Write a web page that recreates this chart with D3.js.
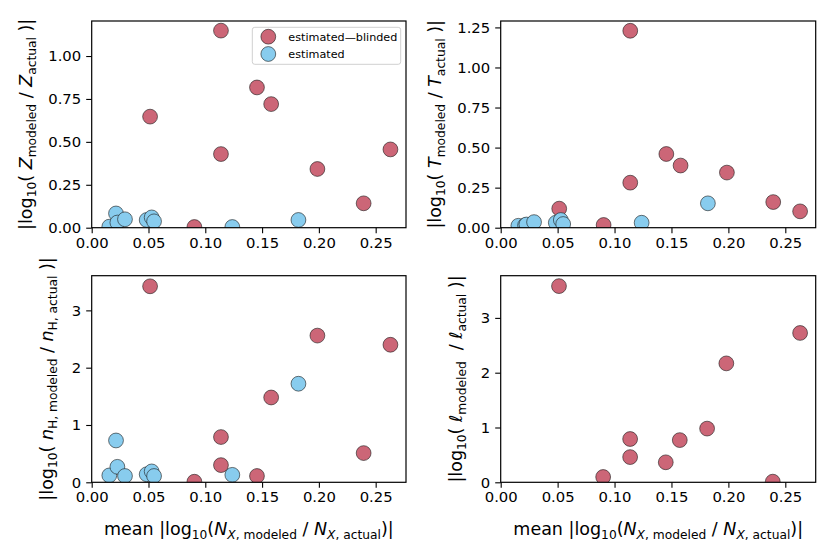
<!DOCTYPE html>
<html lang="en">
<head>
<meta charset="UTF-8">
<title>Modeled vs actual deviations</title>
<script src="https://d3js.org/d3.v7.min.js"></script>
<style>
    body, html { margin: 0; background: #fff; }
    svg text { font-family: 'DejaVu Sans', sans-serif; fill: #000; }
</style>
</head>
<body>
<svg id="chart" width="831" height="557"></svg>
<script>
    // shared x values: mean |log10(N_X,modeled / N_X,actual)|
    const blindedX   = [0.0514, 0.0904, 0.1138, 0.1138, 0.1455, 0.1580, 0.1987, 0.2394, 0.2630];
    const estimatedX = [0.0155, 0.0214, 0.0226, 0.0293, 0.0484, 0.0528, 0.0549, 0.1238, 0.1820];

    // |log10(Z_modeled / Z_actual)|
    const zBlinded   = [0.647, 0.004, 1.148, 0.429, 0.817, 0.720, 0.342, 0.142, 0.456];
    const zEstimated = [0.006, 0.083, 0.030, 0.049, 0.045, 0.060, 0.037, 0.004, 0.045];

    // |log10(T_modeled / T_actual)|
    const tBlinded   = [0.119, 0.017, 1.229, 0.281, 0.460, 0.388, 0.344, 0.160, 0.102];
    const tEstimated = [0.012, 0.015, 0.020, 0.035, 0.031, 0.048, 0.023, 0.031, 0.152];

    // |log10(n_H,modeled / n_H,actual)|
    const nBlinded   = [3.42, 0.01, 0.79, 0.30, 0.11, 1.48, 2.56, 0.51, 2.40];
    const nEstimated = [0.12, 0.73, 0.27, 0.11, 0.14, 0.19, 0.11, 0.13, 1.72];

    // |log10(l_modeled / l_actual)| (blinded only)
    const ellX = [0.0512, 0.0900, 0.1137, 0.1137, 0.1450, 0.1573, 0.1813, 0.1982, 0.2390, 0.2630];
    const ellY = [3.58, 0.097, 0.79, 0.46, 0.365, 0.77, 0.98, 2.17, 0.012, 2.725];

    const xTicks = [0, 0.05, 0.10, 0.15, 0.20, 0.25];
    const seriesNames = ["estimated\u2014blinded", "estimated"];
    const colors = ["#cc6677", "#88ccee"];

    const zip = (xs, ys) => xs.map((x, i) => ({ x, y: ys[i] }));

    // label pieces: [text, style] where style: n normal, i italic, s sub, si sub italic
    const panels = [
        { left: 91.7, top: 21, w: 314.3, h: 206.7, ymax: 1.204,
          yTicks: [0, 0.25, 0.5, 0.75, 1.0], fmt: d3.format(".2f"), labelX: 32,
          series: [zip(blindedX, zBlinded), zip(estimatedX, zEstimated)], legend: true,
          ylabel: [["|log", "n"], ["10", "s"], ["( ", "n"], ["Z", "i"], ["modeled", "s"], [" / ", "n"], ["Z", "i"], ["actual", "s"], [" )|", "n"]] },
        { left: 500.7, top: 21, w: 315, h: 206.7, ymax: 1.29,
          yTicks: [0, 0.25, 0.5, 0.75, 1.0, 1.25], fmt: d3.format(".2f"), labelX: 441,
          series: [zip(blindedX, tBlinded), zip(estimatedX, tEstimated)],
          ylabel: [["|log", "n"], ["10", "s"], ["( ", "n"], ["T", "i"], ["modeled", "s"], [" / ", "n"], ["T", "i"], ["actual", "s"], [" )|", "n"]] },
        { left: 91.7, top: 275.7, w: 314.3, h: 206.6, ymax: 3.605,
          yTicks: [0, 1, 2, 3], fmt: d3.format("d"), labelX: 53, xlabel: true,
          series: [zip(blindedX, nBlinded), zip(estimatedX, nEstimated)],
          ylabel: [["|log", "n"], ["10", "s"], ["( ", "n"], ["n", "i"], ["H, modeled", "s"], [" / ", "n"], ["n", "i"], ["H, actual", "s"], [" )|", "n"]] },
        { left: 500.7, top: 275.7, w: 315, h: 206.6, ymax: 3.77,
          yTicks: [0, 1, 2, 3], fmt: d3.format("d"), labelX: 462, xlabel: true,
          series: [zip(ellX, ellY), []],
          ylabel: [["|log", "n"], ["10", "s"], ["( ", "n"], ["\u2113", "i"], ["modeled", "s"], ["  / ", "n"], ["\u2113", "i"], ["actual", "s"], [" )|", "n"]] }
    ];

    const svg = d3.select("#chart");

    function richText(sel, parts, size) {
        const sub = size * 0.7, shift = size * 0.22;
        let down = false;
        parts.forEach(([t, st]) => {
            const isSub = st === "s" || st === "si";
            const ts = sel.append("tspan").text(t)
                .attr("font-size", isSub ? sub : size)
                .attr("font-style", st === "i" || st === "si" ? "italic" : "normal")
                .style("white-space", "pre");
            if (isSub && !down) { ts.attr("dy", shift); down = true; }
            else if (!isSub && down) { ts.attr("dy", -shift); down = false; }
        });
    }

    panels.forEach((p, pi) => {
        const g = svg.append("g").attr("transform", `translate(${p.left},${p.top})`);
        const x = d3.scaleLinear().domain([0, 0.2767]).range([0, p.w]);
        const y = d3.scaleLinear().domain([0, p.ymax]).range([p.h, 0]);

        g.append("clipPath").attr("id", "clip" + pi)
            .append("rect").attr("width", p.w).attr("height", p.h);

        const plot = g.append("g").attr("clip-path", `url(#clip${pi})`);
        p.series.forEach((pts, si) => {
            plot.selectAll(".s" + si).data(pts).enter().append("circle")
                .attr("class", "s" + si)
                .attr("cx", d => x(d.x))
                .attr("cy", d => y(d.y))
                .attr("r", 7.4)
                .attr("fill", colors[si])
                .attr("stroke", "#1a1a1a")
                .attr("stroke-width", 0.6);
        });

        const xAxis = g.append("g").attr("transform", `translate(0,${p.h})`)
            .call(d3.axisBottom(x).tickValues(xTicks).tickFormat(d3.format(".2f")).tickSizeOuter(0).tickSize(5.5).tickPadding(4));
        const yAxis = g.append("g")
            .call(d3.axisLeft(y).tickValues(p.yTicks).tickFormat(p.fmt).tickSizeOuter(0).tickSize(5.5).tickPadding(5));
        [xAxis, yAxis].forEach(a => {
            a.select(".domain").remove();
            a.selectAll(".tick line").attr("stroke", "#000").attr("stroke-width", 1.1);
            a.selectAll(".tick text").attr("font-size", 14.8).attr("font-family", "'DejaVu Sans', sans-serif");
        });

        g.append("rect").attr("width", p.w).attr("height", p.h)
            .attr("fill", "none").attr("stroke", "#000").attr("stroke-width", 1.2);

        const yl = svg.append("text")
            .attr("transform", `translate(${p.labelX},${p.top + p.h / 2}) rotate(-90)`)
            .attr("text-anchor", "middle");
        richText(yl, p.ylabel, 17.5);

        if (p.xlabel) {
            const xl = svg.append("text")
                .attr("x", p.left + p.w / 2).attr("y", 535)
                .attr("text-anchor", "middle");
            richText(xl, [["mean |log", "n"], ["10", "s"], ["(", "n"], ["N", "i"], ["X", "si"], [", modeled", "s"],
                [" / ", "n"], ["N", "i"], ["X", "si"], [", actual", "s"], [")|", "n"]], 17.5);
        }

        if (p.legend) {
            const lg = g.append("g").attr("transform", `translate(${252.3 - p.left},${27.3 - p.top})`);
            lg.append("rect").attr("width", 148.4).attr("height", 37).attr("rx", 2.5)
                .attr("fill", "#fff").attr("fill-opacity", 0.8)
                .attr("stroke", "#d0d0d0").attr("stroke-width", 1);
            seriesNames.forEach((name, i) => {
                lg.append("circle").attr("cx", 16).attr("cy", 9.4 + i * 17.3).attr("r", 7.4)
                    .attr("fill", colors[i]).attr("stroke", "#1a1a1a").attr("stroke-width", 0.6);
                lg.append("text").attr("x", 36).attr("y", 9.4 + i * 17.3).attr("dy", "0.35em")
                    .attr("font-size", 11.2).text(name);
            });
        }
    });
</script>
</body>
</html>
